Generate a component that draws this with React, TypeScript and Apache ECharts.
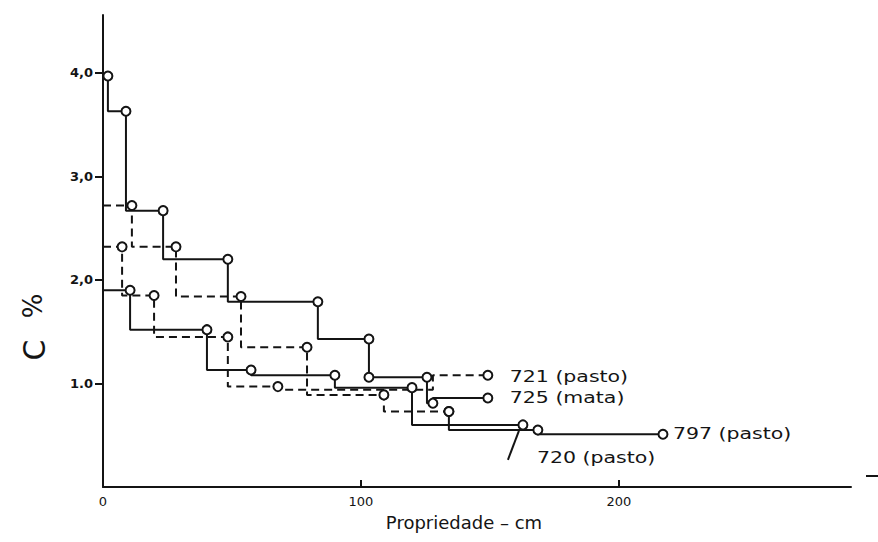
import React, { useEffect, useRef } from "react";
import * as echarts from "echarts";

// ---- axis ticks / labels ----
const xTickValues = [0, 100, 200];
const yTickValues = [1, 2, 3, 4];
const yTickLabels = ["1.0", "2,0", "3,0", "4,0"];

// ---- 725 (mata): depth (cm) and C (%) ----
const depth725 = [0, 1.9, 8.9, 23.3, 48.4, 83.3, 103.1, 103.1, 125.6, 127.9, 149.2];
const c725 = [3.97, 3.97, 3.63, 2.67, 2.2, 1.79, 1.43, 1.06, 1.06, 0.81, 0.86];
const hidden725 = [0];

// ---- 720 (pasto) ----
const depth720 = [0, 10.5, 40.3, 57.4, 89.9, 119.8, 162.8];
const c720 = [1.9, 1.9, 1.52, 1.13, 1.08, 0.96, 0.6];
const hidden720 = [0];

// ---- 797 (pasto) ----
const depth797 = [0, 11.2, 28.3, 53.5, 79.1, 108.9, 134.1, 168.6, 217.1];
const c797 = [2.72, 2.72, 2.32, 1.84, 1.35, 0.89, 0.73, 0.55, 0.51];
const hidden797 = [0];
const solidFrom797 = 6;

// ---- 721 (pasto) ----
const depth721 = [0, 7.4, 19.8, 48.4, 67.8, 127.9, 127.9, 149.2];
const c721 = [2.32, 2.32, 1.85, 1.45, 0.97, 0.94, 1.08, 1.08];
const hidden721 = [0, 5, 6];

const names = {
  s721: "721 (pasto)",
  s725: "725 (mata)",
  s797: "797 (pasto)",
  s720: "720 (pasto)",
};

const INK = "#141414";
const FONT = "'DejaVu Sans', 'Noto Sans', sans-serif";

function build(xs: number[], ys: number[], hidden: number[], from = 0, to = xs.length) {
  const out: any[] = [];
  for (let i = from; i < to; i++) {
    if (hidden.includes(i)) out.push({ value: [xs[i], ys[i]], symbol: "none" });
    else out.push({ value: [xs[i], ys[i]] });
  }
  return out;
}

function lineSeries(name: string, data: any[], dashed: boolean) {
  return {
    name,
    type: "line",
    step: "start",
    data,
    symbol: "circle",
    symbolSize: 9,
    showSymbol: true,
    itemStyle: { color: "#fff", borderColor: INK, borderWidth: 2 },
    lineStyle: { color: INK, width: 2, type: dashed ? [8, 5] : "solid" },
    z: dashed ? 3 : 4,
    silent: true,
  };
}

export default function App() {
  const ref = useRef<HTMLDivElement>(null);
  useEffect(() => {
    const chart = echarts.init(ref.current!, null, { renderer: "svg" });
    const option: any = {
      animation: false,
      backgroundColor: "#fff",
      grid: { left: 103, right: 27, top: 15, bottom: 55, containLabel: false },
      xAxis: {
        type: "value",
        min: 0,
        max: 290,
        axisLine: { show: true, lineStyle: { color: INK, width: 2 } },
        axisTick: { show: true, inside: true, length: 7, customValues: xTickValues.slice(1), lineStyle: { color: INK, width: 2 } },
        axisLabel: {
          customValues: xTickValues,
          color: INK,
          fontSize: 13,
          fontFamily: FONT,
          margin: 8,
        },
        splitLine: { show: false },
      },
      yAxis: {
        type: "value",
        min: 0,
        max: 4.56,
        axisLine: { show: true, lineStyle: { color: INK, width: 2 } },
        axisTick: { show: true, inside: false, length: 8, customValues: yTickValues, lineStyle: { color: INK, width: 2 } },
        axisLabel: {
          customValues: yTickValues,
          formatter: (v: number) => yTickLabels[yTickValues.indexOf(Math.round(v))] ?? "",
          color: INK,
          fontSize: 13,
          fontWeight: "bold",
          fontFamily: FONT,
          margin: 10,
        },
        splitLine: { show: false },
      },
      series: [
        lineSeries(names.s725, build(depth725, c725, hidden725), false),
        lineSeries(names.s720, build(depth720, c720, hidden720), false),
        lineSeries(names.s797, build(depth797, c797, hidden797, 0, solidFrom797 + 1), true),
        lineSeries(names.s797 + " ", build(depth797, c797, hidden797, solidFrom797), false),
        lineSeries(names.s721, build(depth721, c721, hidden721), true),
      ],
    };
    chart.setOption(option);

    const px = (x: number, y: number) => chart.convertToPixel({ gridIndex: 0 }, [x, y]) as number[];
    const last = (xs: number[], ys: number[]) => px(xs[xs.length - 1], ys[ys.length - 1]);
    const p721 = last(depth721, c721);
    const p725 = last(depth725, c725);
    const p797 = last(depth797, c797);
    const p720 = last(depth720, c720);
    const labelStyle = { fill: INK, fontSize: 16, fontFamily: FONT, textVerticalAlign: "middle", lineHeight: 16 };
    const SX = 1.28;

    chart.setOption({
      graphic: [
        { type: "text", x: p721[0] + 22, y: p721[1] + 1, scaleX: SX, style: { ...labelStyle, text: names.s721 } },
        { type: "text", x: p725[0] + 22, y: p725[1] - 1, scaleX: SX, style: { ...labelStyle, text: names.s725 } },
        { type: "text", x: p797[0] + 10, y: p797[1] - 1, scaleX: SX, style: { ...labelStyle, text: names.s797 } },
        { type: "text", x: p720[0] + 14, y: p720[1] + 32, scaleX: SX, style: { ...labelStyle, text: names.s720 } },
        {
          type: "line",
          shape: { x1: p720[0] - 15, y1: p720[1] + 35, x2: p720[0] - 4, y2: p720[1] + 6 },
          style: { stroke: INK, lineWidth: 2 },
        },
        {
          type: "text",
          x: 34,
          y: 350,
          rotation: Math.PI / 2,
          style: { text: "C", fill: INK, fontSize: 30, fontFamily: FONT, textAlign: "center", textVerticalAlign: "middle" },
        },
        {
          type: "text",
          x: 33,
          y: 306,
          rotation: Math.PI / 2,
          style: { text: "%", fill: INK, fontSize: 26, fontFamily: FONT, textAlign: "center", textVerticalAlign: "middle" },
        },
        {
          type: "text",
          x: 464,
          y: 522,
          style: { text: "Propriedade – cm", fill: INK, fontSize: 18, fontFamily: FONT, textAlign: "center", textVerticalAlign: "middle" },
        },
        {
          type: "line",
          shape: { x1: 866, y1: 476, x2: 878, y2: 476 },
          style: { stroke: INK, lineWidth: 2 },
        },
      ],
    });
    return () => chart.dispose();
  }, []);
  return (
    <div
      ref={ref}
      style={{ position: "fixed", left: 0, top: 0, width: 878, height: 542, background: "#fff" }}
    />
  );
}
